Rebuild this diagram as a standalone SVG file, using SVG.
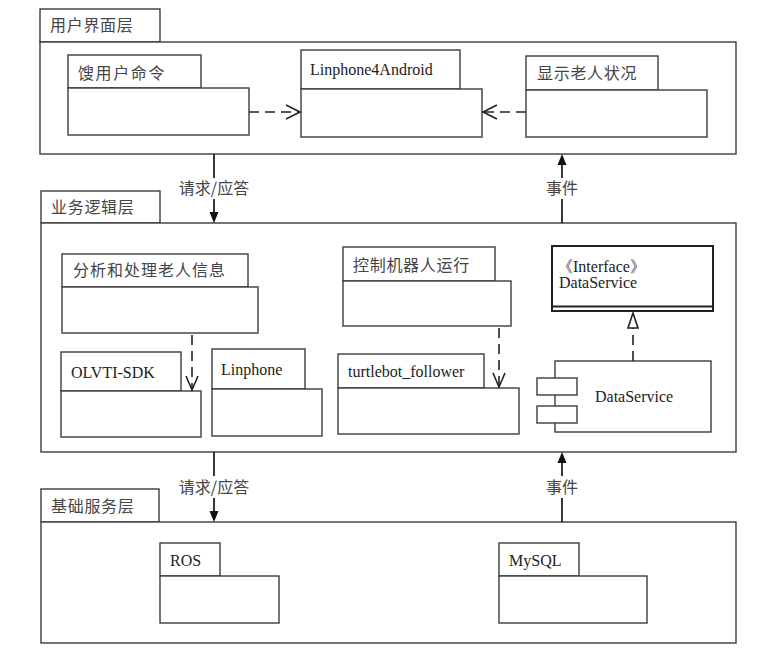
<svg xmlns="http://www.w3.org/2000/svg" width="777" height="653" viewBox="0 0 777 653">
<style>
.b{fill:#fff;stroke:#3c3c3c;stroke-width:1.4}
.cn{font-family:"Noto Sans CJK SC","Noto Sans",sans-serif;font-size:16px;fill:#444;letter-spacing:0.7px}
.lt{font-family:"Liberation Serif",serif;font-size:16px;fill:#222}
.dash{fill:none;stroke:#222;stroke-width:1.6;stroke-dasharray:10 6}
.solid{fill:none;stroke:#222;stroke-width:1.8}
.open{fill:none;stroke:#222;stroke-width:1.6}
</style>
<defs>
<marker id="filled" markerWidth="10" markerHeight="12" refX="9" refY="5" orient="auto" markerUnits="userSpaceOnUse">
<path d="M0,0 L10,5 L0,10 Z" fill="#111"/>
</marker>
</defs>
<rect width="777" height="653" fill="#fff"/>

<g id="layer-ui">
<rect class="b" x="40" y="9" width="120" height="33"/>
<rect class="b" x="40" y="42" width="696" height="112"/>
<text class="cn" x="50" y="31">用户界面层</text>
</g>
<g id="layer-biz">
<rect class="b" x="41" y="191" width="119" height="32"/>
<rect class="b" x="41" y="223" width="695" height="229"/>
<text class="cn" x="51" y="213">业务逻辑层</text>
</g>
<g id="layer-base">
<rect class="b" x="41" y="489" width="118" height="33"/>
<rect class="b" x="41" y="522" width="695" height="121"/>
<text class="cn" x="51" y="512">基础服务层</text>
</g>

<g id="pkg-cmd">
<rect class="b" x="68" y="55" width="133" height="33"/>
<rect class="b" x="68" y="88" width="181" height="47"/>
<text class="cn" x="78" y="79" style="letter-spacing:1.6px">馊用户命令</text>
</g>
<g id="pkg-linphone4android">
<rect class="b" x="301" y="50" width="159" height="39"/>
<rect class="b" x="301" y="89" width="181" height="48"/>
<text class="lt" x="310" y="75">Linphone4Android</text>
</g>
<g id="pkg-show">
<rect class="b" x="526" y="56" width="132" height="34"/>
<rect class="b" x="526" y="90" width="181" height="47"/>
<text class="cn" x="537" y="79">显示老人状况</text>
</g>

<g id="pkg-analyze">
<rect class="b" x="62" y="254" width="186" height="33"/>
<rect class="b" x="62" y="287" width="196" height="46"/>
<text class="cn" x="73" y="276" style="letter-spacing:1px">分析和处理老人信息</text>
</g>
<g id="pkg-control">
<rect class="b" x="343" y="247" width="152" height="34"/>
<rect class="b" x="343" y="281" width="168" height="45"/>
<text class="cn" x="353" y="271">控制机器人运行</text>
</g>
<g id="pkg-olvti">
<rect class="b" x="61" y="352" width="120" height="39"/>
<rect class="b" x="61" y="391" width="140" height="46"/>
<text class="lt" x="71" y="378">OLVTI-SDK</text>
</g>
<g id="pkg-linphone">
<rect class="b" x="212" y="349" width="93" height="40"/>
<rect class="b" x="212" y="389" width="110" height="47"/>
<text class="lt" x="221" y="375">Linphone</text>
</g>
<g id="pkg-turtlebot">
<rect class="b" x="338" y="354" width="146" height="34"/>
<rect class="b" x="338" y="388" width="181" height="46"/>
<text class="lt" x="348" y="377">turtlebot_follower</text>
</g>
<g id="iface-dataservice">
<rect x="552" y="246" width="161" height="65" fill="#fff" stroke="#222" stroke-width="2"/>
<line x1="552" y1="306.5" x2="713" y2="306.5" stroke="#222" stroke-width="2"/>
<text class="lt" x="557" y="272">《Interface》</text>
<text class="lt" x="559" y="288">DataService</text>
</g>
<g id="comp-dataservice">
<rect class="b" x="555" y="361" width="156" height="71"/>
<rect class="b" x="537" y="378" width="40" height="17"/>
<rect class="b" x="537" y="406" width="40" height="17"/>
<text class="lt" x="595" y="402">DataService</text>
</g>

<g id="pkg-ros">
<rect class="b" x="160" y="543" width="60" height="33"/>
<rect class="b" x="160" y="576" width="119" height="47"/>
<text class="lt" x="170" y="566">ROS</text>
</g>
<g id="pkg-mysql">
<rect class="b" x="499" y="543" width="80" height="33"/>
<rect class="b" x="499" y="576" width="148" height="47"/>
<text class="lt" x="509" y="566">MySQL</text>
</g>

<g id="connectors">
<!-- UI internal dependencies -->
<line class="dash" x1="249" y1="112" x2="299" y2="112"/>
<polyline class="open" points="286,105 300,112 286,119"/>
<line class="dash" x1="526" y1="112" x2="484" y2="112"/>
<polyline class="open" points="497,105 483,112 497,119"/>
<!-- business internal -->
<line class="dash" x1="192" y1="335" x2="192" y2="389"/>
<polyline class="open" points="186,376 192,390 198,376"/>
<line class="dash" x1="499" y1="328" x2="499" y2="386"/>
<polyline class="open" points="493,373 499,387 505,373"/>
<line class="dash" x1="633" y1="361" x2="633" y2="328" stroke-dasharray="9 6"/>
<path d="M633,313 L638,328 L628,328 Z" fill="#fff" stroke="#222" stroke-width="1.6"/>
<!-- UI -> business request -->
<line class="solid" x1="214" y1="154" x2="214" y2="178"/>
<line class="solid" x1="214" y1="199" x2="214" y2="213"/>
<path d="M209.5,212 L218.5,212 L214,223 Z" fill="#111"/>
<text class="cn" x="214" y="194" text-anchor="middle" style="letter-spacing:0">请求/应答</text>
<!-- business -> UI event -->
<line class="solid" x1="562" y1="223" x2="562" y2="199"/>
<line class="solid" x1="562" y1="178" x2="562" y2="164"/>
<path d="M557.5,165 L566.5,165 L562,154 Z" fill="#111"/>
<text class="cn" x="562" y="194" text-anchor="middle" style="letter-spacing:0">事件</text>
<!-- business -> base request -->
<line class="solid" x1="214" y1="452" x2="214" y2="476"/>
<line class="solid" x1="214" y1="498" x2="214" y2="512"/>
<path d="M209.5,511 L218.5,511 L214,522 Z" fill="#111"/>
<text class="cn" x="214" y="493" text-anchor="middle" style="letter-spacing:0">请求/应答</text>
<!-- base -> business event -->
<line class="solid" x1="562" y1="522" x2="562" y2="498"/>
<line class="solid" x1="562" y1="476" x2="562" y2="462"/>
<path d="M557.5,463 L566.5,463 L562,452 Z" fill="#111"/>
<text class="cn" x="562" y="493" text-anchor="middle" style="letter-spacing:0">事件</text>
</g>
</svg>
